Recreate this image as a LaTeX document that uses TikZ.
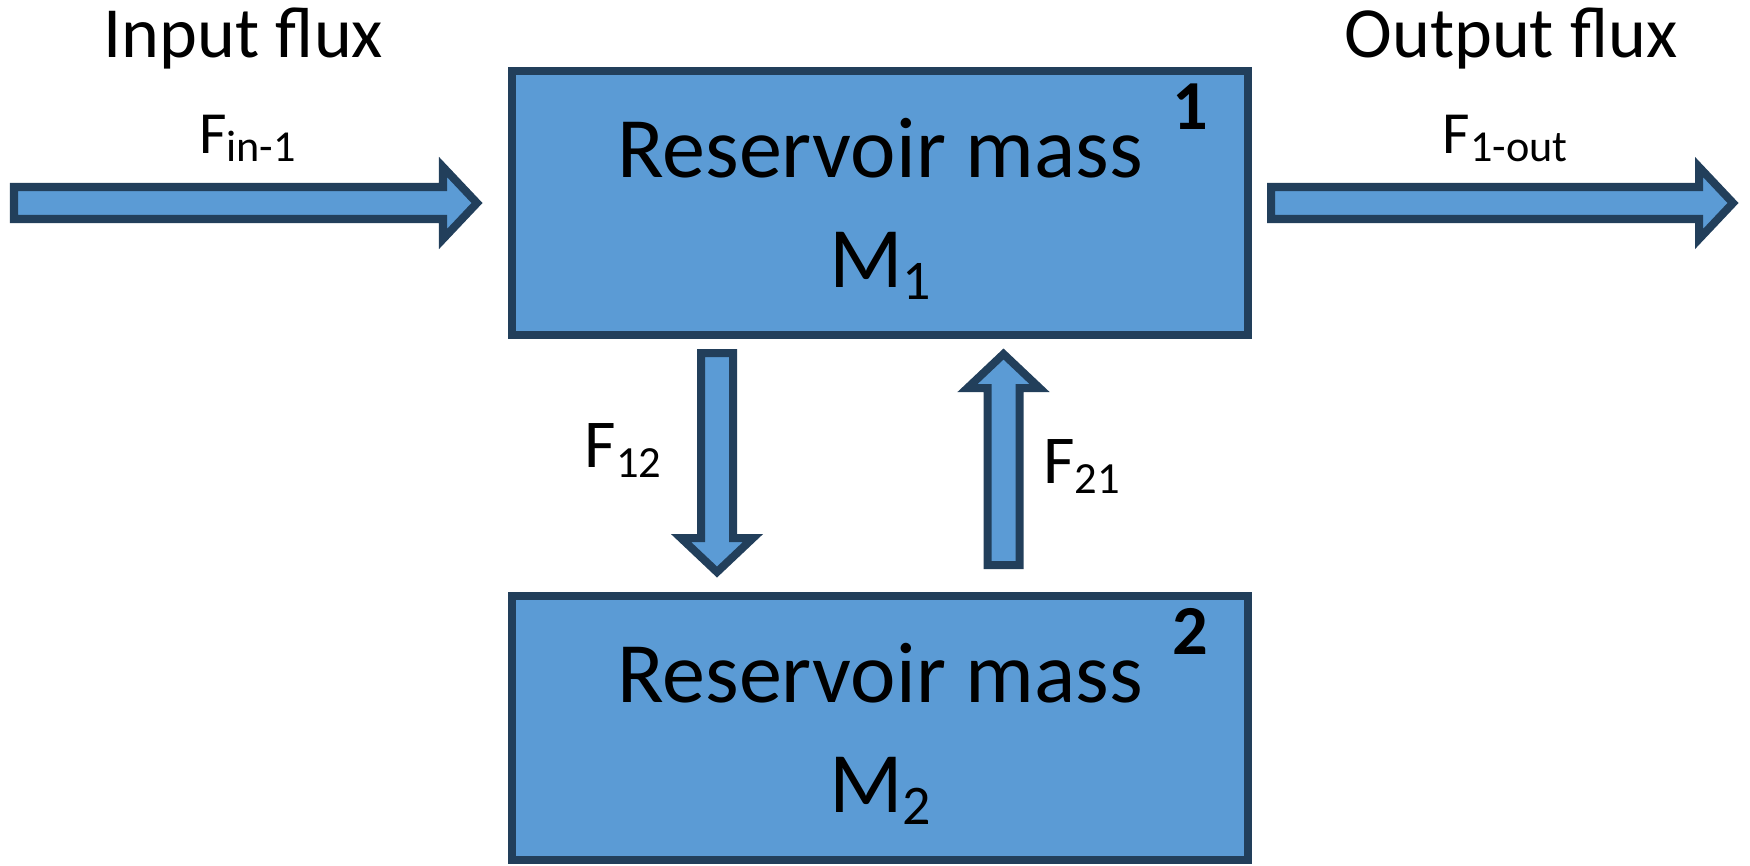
\documentclass[tikz,border=0pt]{standalone}
\usepackage{fontspec}
\setmainfont{Carlito}
\usetikzlibrary{calc}
\usetikzlibrary{positioning}

\definecolor{resfill}{HTML}{5B9BD5}
\definecolor{resline}{HTML}{223F5B}

\newcommand{\lowsub}[2][0.65]{\raisebox{-0.15em}{\scalebox{#1}{#2}}}

% block arrow with its tail at #1 and its tip at #2
\newcommand{\fluxarrow}[2]{%
  \coordinate (head) at ($(#2)!0.34cm!(#1)$);
  \draw [flux] ($(#1)!0.16cm!90:(#2)$) -- ($(head)!0.16cm!90:(#2)$) -- ($(head)!0.36cm!90:(#2)$)
    -- (#2) -- ($(head)!0.36cm!-90:(#2)$) -- ($(head)!0.16cm!-90:(#2)$) -- ($(#1)!0.16cm!-90:(#2)$) -- cycle;}

\tikzset{reservoir/.style = {draw = resline, fill = resfill, line width = 2.28pt,
                             minimum width = 7.36cm, minimum height = 2.64cm},
         flux/.style = {draw = resline, fill = resfill, line width = 2.28pt, line join = miter},
         mass text/.style = {anchor = base, inner sep = 0pt, font = \fontsize{24.5}{29}\selectfont},
         title/.style = {anchor = base, inner sep = 0pt, font = \fontsize{20.5}{25}\selectfont},
         rate/.style = {anchor = base, inner sep = 0pt, font = \fontsize{17}{20}\selectfont},
         exchange/.style = {anchor = base, inner sep = 0pt, font = \fontsize{19.5}{23}\selectfont},
         tag/.style = {inner sep = 0pt, font = \fontsize{20}{24}\selectfont\bfseries}}

\begin{document}
\begin{tikzpicture}
  \useasboundingbox (0, 0) rectangle (17.5, 8.65);

  % the two reservoirs
  \node [reservoir] (box1) at (8.8, 6.62) {};
  \node [reservoir, below = 2.53cm of box1] (box2) {};

  \node [mass text] (name1) at ([yshift = 0.26cm] box1.center) {Reservoir mass};
  \node [mass text] (mass1) at ([yshift = -0.84cm] box1.center) {M\lowsub{1}};
  \node [tag] (tag1) at ([xshift = -0.62cm, yshift = -0.395cm] box1.north east) {1};

  \node [mass text] (name2) at ([yshift = 0.26cm] box2.center) {Reservoir mass};
  \node [mass text] (mass2) at ([yshift = -0.84cm] box2.center) {M\lowsub{2}};
  \node [tag] (tag2) at ([xshift = -0.62cm, yshift = -0.395cm] box2.north east) {2};

  % fluxes
  \coordinate (in start) at (0.14, 6.62);
  \coordinate (in tip) at ([xshift = -0.31cm] box1.west);
  \coordinate (out start) at ([xshift = 0.19cm] box1.east);
  \coordinate (out tip) at (17.33, 6.62);
  \coordinate (f12 start) at ([xshift = -1.63cm, yshift = -0.14cm] box1.south);
  \coordinate (f12 tip) at ([xshift = -1.63cm, yshift = 0.2cm] box2.north);
  \coordinate (f21 start) at ([xshift = 1.235cm, yshift = 0.27cm] box2.north);
  \coordinate (f21 tip) at ([xshift = 1.235cm, yshift = -0.15cm] box1.south);

  \fluxarrow{in start}{in tip}
  \fluxarrow{out start}{out tip}
  \fluxarrow{f12 start}{f12 tip}
  \fluxarrow{f21 start}{f21 tip}

  \node [title] (in title) at (2.435, 8.08) {Input flux};
  \node [rate] (in rate) at (2.475, 7.12) {F\lowsub[0.74]{in-1}};
  \node [title] (out title) at (15.11, 8.08) {Output flux};
  \node [rate] (out rate) at (15.05, 7.12) {F\lowsub[0.74]{1-out}};

  \node [exchange] (rate12) at (6.23, 3.98) {F\lowsub{12}};
  \node [exchange] (rate21) at (10.815, 3.82) {F\lowsub{21}};
\end{tikzpicture}
\end{document}
